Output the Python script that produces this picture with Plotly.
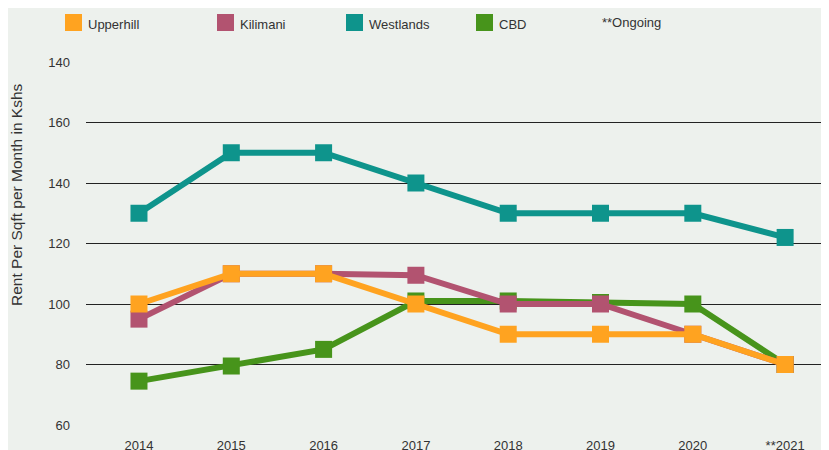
import plotly.graph_objects as go

YEARS = ["2014", "2015", "2016", "2017", "2018", "2019", "2020", "**2021"]

UPPERHILL = [100, 110, 110, 100, 90, 90, 90, 80]
KILIMANI = [95, 110, 110, 109.5, 100, 100, 90, 80]
WESTLANDS = [130, 150, 150, 140, 130, 130, 130, 122]
CBD = [74.5, 79.5, 85, 101, 101, 100.5, 100, 80]

Y_TICKS = [60, 80, 100, 120, 140, 160, 180]
Y_TICK_TEXT = ["60", "80", "100", "120", "140", "160", "140"]

COLORS = {
    "Upperhill": "#FFA320",
    "Kilimani": "#B25370",
    "Westlands": "#0E948C",
    "CBD": "#47941B",
}

BG = "#EDF1ED"
FONT = "Liberation Sans"
TEXT = "#333333"
W, H = 829, 450
# the page body adds an 8px offset, margins are set to compensate
OFF = 8
ML, MR, MT, MB = 78, 0, 54, 33

# drawing order: bottom to top
series = [
    ("Westlands", WESTLANDS),
    ("CBD", CBD),
    ("Kilimani", KILIMANI),
    ("Upperhill", UPPERHILL),
]

fig = go.Figure()
for name, vals in series:
    fig.add_trace(
        go.Scatter(
            x=YEARS,
            y=vals,
            name=name,
            mode="lines+markers",
            line=dict(color=COLORS[name], width=6),
            marker=dict(symbol="square", size=17, color=COLORS[name]),
            showlegend=False,
        )
    )


def px_x(sx):
    return (sx - OFF - ML) / (W - ML - MR)


def px_y(sy):
    return (H - MB - (sy - OFF)) / (H - MT - MB)


# hand placed legend, like the original artwork
legend_items = [("Upperhill", 65), ("Kilimani", 217), ("Westlands", 346), ("CBD", 476)]
for name, x0 in legend_items:
    fig.add_shape(
        type="rect",
        xref="paper",
        yref="paper",
        x0=px_x(x0),
        x1=px_x(x0 + 17),
        y0=px_y(14),
        y1=px_y(31),
        fillcolor=COLORS[name],
        line=dict(width=0),
    )
    fig.add_annotation(
        text=name,
        xref="paper",
        yref="paper",
        x=px_x(x0 + 21),
        y=px_y(25),
        xanchor="left",
        yanchor="middle",
        showarrow=False,
        font=dict(family=FONT, size=13, color=TEXT),
    )
fig.add_annotation(
    text="**Ongoing",
    xref="paper",
    yref="paper",
    x=px_x(600),
    y=px_y(22),
    xanchor="left",
    yanchor="middle",
    showarrow=False,
    font=dict(family=FONT, size=13, color=TEXT),
)

# y title sits higher than the plot centre in the original
fig.add_annotation(
    text="Rent Per Sqft per Month in Kshs",
    xref="paper",
    yref="paper",
    x=px_x(16),
    y=px_y(195),
    textangle=-90,
    xanchor="center",
    yanchor="middle",
    showarrow=False,
    font=dict(family=FONT, size=15.5, color=TEXT),
)

fig.update_xaxes(
    type="category",
    range=[-0.574, 7.562],
    showgrid=False,
    zeroline=False,
    showline=False,
    ticks="",
    automargin=False,
    ticklabelstandoff=11,
    tickfont=dict(family=FONT, size=13, color=TEXT),
)
fig.update_yaxes(
    range=[60, 180],
    tickvals=Y_TICKS,
    ticktext=Y_TICK_TEXT,
    showgrid=True,
    gridcolor="#222222",
    gridwidth=1,
    zeroline=False,
    showline=False,
    ticks="",
    automargin=False,
    ticklabelstandoff=15,
    tickfont=dict(family=FONT, size=13, color=TEXT),
)
fig.update_layout(
    width=W,
    height=H,
    paper_bgcolor=BG,
    plot_bgcolor=BG,
    margin=dict(l=ML, r=MR, t=MT, b=MB),
    font=dict(family=FONT),
)

fig.write_html("out.html")
